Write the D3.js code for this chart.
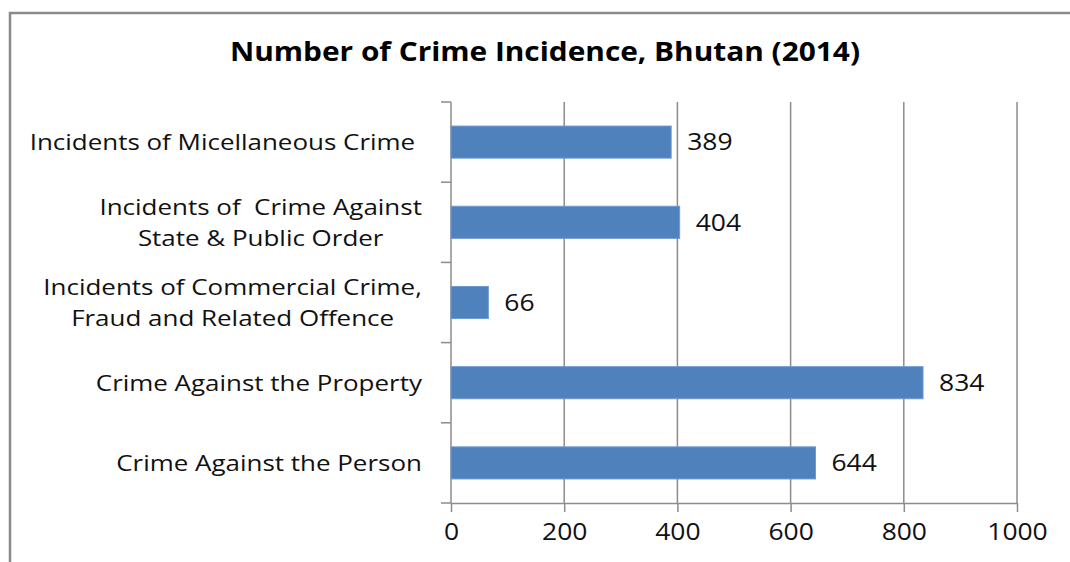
<!DOCTYPE html>
<meta charset="utf-8">
<style>
body { margin: 0; background: #fff; }
svg { display: block; font-family: "Open Sans", sans-serif; }
.grid line { stroke: #8c8c8c; stroke-width: 1.5; }
.axis path, .axis line { stroke: #8c8c8c; stroke-width: 1.5; }
.axis text { fill: #111; font-size: 23px; font-family: "Open Sans", sans-serif; }
.bar { fill: #4f81bd; stroke: #6f9ad0; stroke-width: 1; }
.value { fill: #111; font-size: 23px; }
.cat { fill: #111; font-size: 22px; }
</style>
<body>
<svg width="1070" height="562"></svg>
<script src="https://d3js.org/d3.v7.min.js"></script>
<script>

// data, top to bottom as drawn
var categories = [
    ["Incidents of Micellaneous Crime "],
    ["Incidents of  Crime Against", "State & Public Order"],
    ["Incidents of Commercial Crime,", "Fraud and Related Offence"],
    ["Crime Against the Property"],
    ["Crime Against the Person"]
];
var values = [389, 404, 66, 834, 644];
var xTicks = [0, 200, 400, 600, 800, 1000];
var title = "Number of Crime Incidence, Bhutan (2014)";

var svg = d3.select("svg");
var margin = {top: 102, left: 451, right: 53, bottom: 59};
var width = 1070 - margin.left - margin.right;
var height = 562 - margin.top - margin.bottom;
var sx = 1.15;    // the source text is a little stretched sideways
var sxCat = 1.18;

// outer frame (top and left edges visible)
svg.append("path")
    .attr("d", "M10,562 V13 H1070")
    .attr("fill", "none")
    .attr("stroke", "#8a8a8a")
    .attr("stroke-width", 2.5);

svg.append("text")
    .attr("x", 545)
    .attr("y", 61)
    .attr("text-anchor", "middle")
    .attr("textLength", 630)
    .attr("lengthAdjust", "spacingAndGlyphs")
    .style("font-size", "27px")
    .style("font-weight", "bold")
    .style("fill", "#000")
    .text(title);

var g = svg.append("g")
    .attr("transform", "translate(" + margin.left + "," + margin.top + ")");

var x = d3.scaleLinear().domain([0, 1000]).range([0, width]);
var idx = d3.range(values.length);
var y = d3.scaleBand().domain(idx).range([0, height]).paddingInner(0.6).paddingOuter(0.3);

// vertical gridlines
g.append("g").attr("class", "grid")
    .selectAll("line")
    .data(xTicks.slice(1))
    .enter().append("line")
    .attr("x1", function(d) { return x(d); })
    .attr("x2", function(d) { return x(d); })
    .attr("y1", 0)
    .attr("y2", height);

// x axis
g.append("g").attr("class", "axis")
    .attr("transform", "translate(0," + height + ")")
    .call(d3.axisBottom(x).tickValues(xTicks).tickFormat(d3.format("d"))
        .tickSize(9).tickPadding(12).tickSizeOuter(0))
    .call(function(a) {
        a.selectAll(".tick text")
            .attr("dy", "0.71em")
            .attr("transform", "scale(" + sx + ",1)")
            .attr("x", 0);
    });

// y axis with category boundary ticks
var yAxis = g.append("g").attr("class", "axis");
yAxis.append("line")
    .attr("x1", 0).attr("x2", 0).attr("y1", 0).attr("y2", height);
yAxis.selectAll("line.tk")
    .data(d3.range(values.length + 1))
    .enter().append("line")
    .attr("class", "tk")
    .attr("x1", -10).attr("x2", 0)
    .attr("y1", function(d) { return d * height / values.length; })
    .attr("y2", function(d) { return d * height / values.length; });

// bars
g.selectAll("rect.bar")
    .data(values)
    .enter().append("rect")
    .attr("class", "bar")
    .attr("x", x(0))
    .attr("y", function(d, i) { return y(i); })
    .attr("width", function(d) { return x(d) - x(0); })
    .attr("height", y.bandwidth());

// value labels
g.selectAll("text.value")
    .data(values)
    .enter().append("text")
    .attr("class", "value")
    .attr("transform", function(d, i) {
        return "translate(" + (x(d) + 16) + "," + (y(i) + y.bandwidth() / 2) + ") scale(" + sx + ",1)";
    })
    .attr("dy", "0.36em")
    .text(function(d) { return d; });

// category labels, wrapped lines centred within a right-aligned block
var right = -29;
var lineH = 31;
categories.forEach(function(lines, i) {
    var cy = y(i) + y.bandwidth() / 2;
    var t = g.append("text").attr("class", "cat").style("white-space", "pre");
    var spans = lines.map(function(s, k) {
        return t.append("tspan")
            .attr("y", (k - (lines.length - 1) / 2) * lineH)
            .attr("dy", "0.36em")
            .attr("text-anchor", "middle")
            .text(s);
    });
    var maxW = d3.max(spans, function(s) { return s.node().getComputedTextLength(); }) * sxCat;
    spans.forEach(function(s) { s.attr("x", 0); });
    t.attr("transform", "translate(" + (right - maxW / 2) + "," + cy + ") scale(" + sxCat + ",1)");
});

</script>
